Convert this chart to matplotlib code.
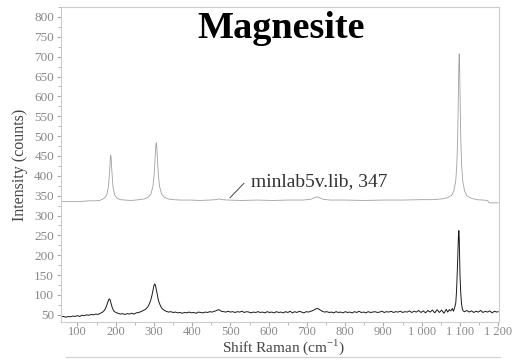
import numpy as np
import matplotlib
matplotlib.use('Agg')
import matplotlib.pyplot as plt
from matplotlib.ticker import MultipleLocator, FuncFormatter
from matplotlib.lines import Line2D

# reference spectrum (library, upper trace)
ref_shift = [57, 80, 100, 115, 130, 145, 158, 165, 172, 177, 181, 184, 186, 187, 188, 190, 193, 197,
             203, 212, 225, 240, 252, 262, 276, 286, 292, 297, 300, 302, 304, 305, 306, 307, 308,
             310, 312, 315, 320, 326, 336, 350, 370, 395, 420, 445, 462, 470, 478, 495, 530, 570,
             610, 650, 690, 710, 720, 726, 732, 742, 760, 800, 850, 900, 950, 1000, 1030, 1053,
             1068, 1078, 1084, 1089, 1092, 1094, 1095, 1096, 1097, 1098, 1099, 1100, 1101, 1102,
             1104, 1107, 1112, 1118, 1128, 1143, 1160, 1172, 1176, 1190, 1200]
ref_counts = [335, 335, 335, 336, 337, 337, 338, 341, 345, 353, 372, 411, 445, 452, 445, 411, 372, 353,
              344, 340, 339, 338, 339, 340, 342, 347, 354, 372, 397, 426, 463, 477, 483, 477, 463,
              426, 397, 372, 354, 347, 342, 340, 339, 339, 338, 339, 340, 342, 340, 339, 338, 339,
              338, 339, 339, 341, 345, 347, 345, 341, 339, 339, 338, 339, 339, 340, 340, 342,
              345, 351, 362, 388, 433, 499, 552, 617, 679, 707, 679, 617, 552, 499,
              433, 388, 362, 350, 344, 340, 339, 338, 332, 332, 332]

# measured spectrum (lower trace)
meas_shift = [57, 64, 70, 76, 82, 88, 94, 100, 106, 112, 118, 124, 130, 136, 142, 148, 154, 160, 166,
              171, 175, 178, 180, 182, 184, 186, 188, 191, 195, 200, 206, 212, 218, 224, 230, 236,
              242, 248, 254, 260, 266, 272, 278, 284, 288, 292, 295, 298, 300, 302, 304, 306, 309,
              312, 316, 320, 326, 332, 338, 344, 350, 356, 362, 368, 374, 380, 386, 392, 398, 404,
              410, 416, 422, 428, 434, 440, 446, 452, 458, 464, 468, 472, 476, 482, 488, 494, 500,
              506, 512, 518, 524, 530, 536, 542, 548, 554, 560, 566, 572, 578, 584, 590, 596, 602,
              608, 614, 620, 626, 632, 638, 644, 650, 656, 662, 668, 674, 680, 686, 692, 698, 704,
              710, 716, 721, 726, 730, 735, 740, 746, 752, 758, 764, 770, 776, 782, 788, 794, 800,
              806, 812, 818, 824, 830, 836, 842, 848, 854, 860, 866, 872, 878, 884, 890, 896, 902,
              908, 914, 920, 926, 932, 938, 944, 950, 956, 962, 968, 974, 980, 986, 992, 998, 1004,
              1010, 1016, 1022, 1028, 1034, 1040, 1046, 1052, 1058, 1064, 1068, 1072, 1076, 1080,
              1083, 1086, 1089, 1091, 1093, 1095, 1096, 1097, 1098, 1099, 1100, 1102, 1104, 1106,
              1108, 1112, 1118, 1124, 1130, 1136, 1142, 1148, 1154, 1160, 1166, 1172, 1178, 1184,
              1190, 1196, 1200]
meas_counts = [45, 46, 44, 46, 45, 47, 46, 48, 46, 49, 48, 50, 49, 51, 50, 52, 51, 54, 57,
               62, 70, 78, 84, 89, 90, 86, 78, 68, 60, 56, 54, 52, 53, 51, 53, 52,
               54, 52, 55, 56, 58, 61, 64, 70, 78, 88, 100, 115, 124, 128, 124, 114, 98,
               85, 75, 67, 62, 59, 57, 58, 56, 57, 55, 56, 54, 56, 55, 57, 55, 56,
               54, 57, 56, 55, 57, 56, 58, 57, 59, 61, 63, 62, 59, 58, 57, 59, 57,
               58, 56, 58, 57, 59, 56, 58, 57, 55, 57, 56, 58, 56, 57, 55, 58, 56,
               57, 55, 58, 56, 57, 55, 58, 56, 59, 55, 58, 56, 59, 57, 55, 58, 57,
               59, 61, 64, 66, 65, 62, 59, 57, 58, 56, 57, 55, 58, 56, 57, 55, 58,
               56, 57, 55, 58, 56, 59, 56, 57, 55, 58, 56, 57, 58, 56, 57, 59, 56,
               58, 57, 59, 56, 58, 57, 59, 56, 58, 57, 60, 56, 59, 57, 61, 56, 60,
               55, 61, 57, 62, 55, 63, 56, 62, 54, 64, 57, 63, 60, 66,
               59, 68, 80, 110, 160, 220, 250, 262, 245, 200, 150, 105, 78, 66,
               60, 58, 61, 57, 60, 56, 59, 57, 61, 56, 59, 57, 60, 55,
               59, 57, 58]

y_ticks = list(range(50, 801, 50))
x_ticks = list(range(100, 1201, 100))

title_txt = 'Magnesite'
lib_txt = 'minlab5v.lib, 347'

fig = plt.figure(figsize=(5.16, 3.6), dpi=100)
ax = fig.add_axes([61 / 516, 1 - 322 / 360, (499 - 61) / 516, (322 - 7) / 360])

ax.plot(ref_shift, ref_counts, color='#a0a0a0', lw=0.6)
ax.plot(meas_shift, meas_counts, color='#1a1a1a', lw=0.7)

ax.set_xlim(57, 1202)
ax.set_ylim(32, 825)

ax.set_xticks(x_ticks)
ax.set_yticks(y_ticks)
ax.xaxis.set_minor_locator(MultipleLocator(50))
ax.yaxis.set_minor_locator(MultipleLocator(25))
ax.xaxis.set_major_formatter(FuncFormatter(lambda v, p: '{:,}'.format(int(v)).replace(',', ' ')))

for s in ax.spines.values():
    s.set_color('#cccccc')
    s.set_linewidth(0.8)
ax.tick_params(which='both', direction='out', color='#aaaaaa', labelcolor='#888888',
               labelsize=9.5, top=False, right=False, pad=2)
ax.tick_params(axis='x', pad=0, labelsize=9)
ax.tick_params(which='major', length=3)
ax.tick_params(which='minor', length=2)
for lab in ax.get_xticklabels() + ax.get_yticklabels():
    lab.set_family('Liberation Serif')

# axis titles placed directly
fig.text(283 / 516, 1 - 347 / 360, 'Shift Raman (cm$^{\\mathregular{-1}}$)',
         family='Liberation Serif', fontsize=11, color='#444444', ha='center', va='center')
ax.set_ylabel('Intensity (counts)', family='Liberation Serif', fontsize=11.5,
              color='#444444', labelpad=4)

ax.text(632, 747, title_txt, family='Liberation Serif', fontweight='bold', fontsize=27.5,
        ha='center', va='baseline', color='black')

# library label with leader line
ax.plot([499, 535], [345, 381], color='#444444', lw=0.7)
ax.text(553, 373, lib_txt, family='Liberation Serif', fontsize=14, color='#333333',
        ha='left', va='baseline')

# top edge of the box under the chart
fig.add_artist(Line2D([66 / 516, 500 / 516], [1 - 357 / 360, 1 - 357 / 360],
                      color='#d0d0d0', lw=0.8))

fig.savefig('out.png', dpi=100)
